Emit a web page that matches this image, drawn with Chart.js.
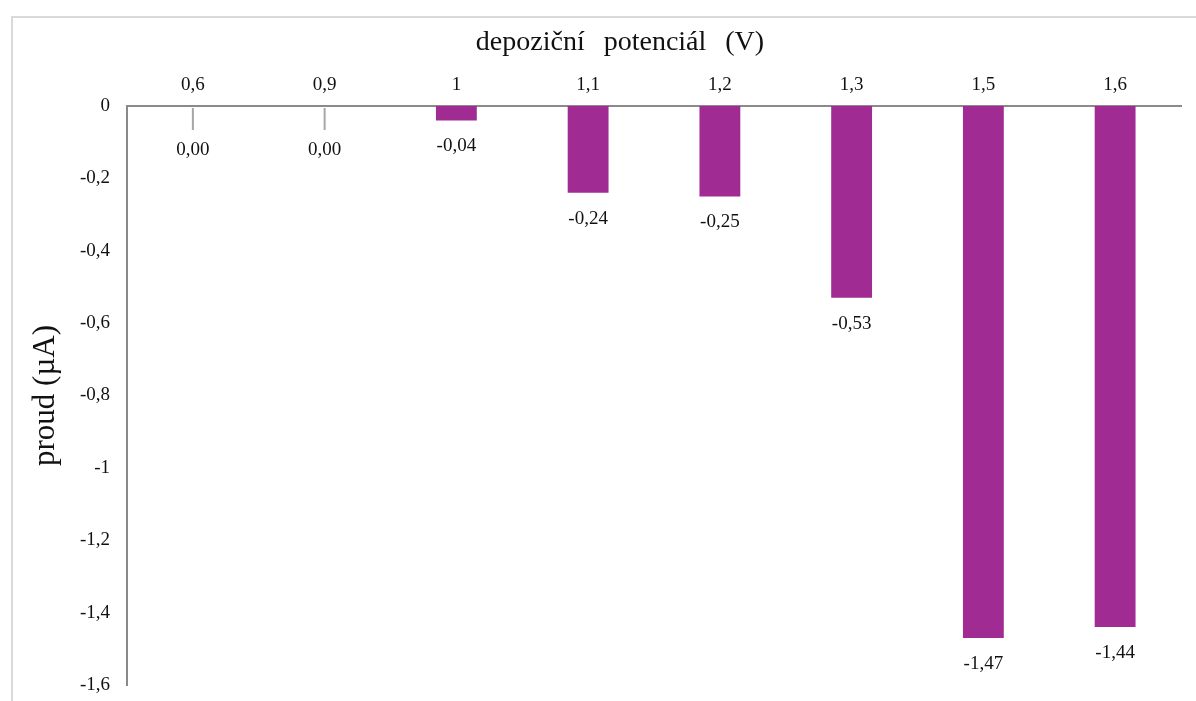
<!DOCTYPE html>
<html lang="cs">
<head>
<meta charset="utf-8">
<title>Proud v závislosti na depozičním potenciálu</title>
<script src="https://cdn.jsdelivr.net/npm/chart.js@4"></script>
<style>
  html, body { margin: 0; padding: 0; background: #ffffff; }
  #wrap { position: relative; width: 1196px; height: 701px; overflow: hidden; background: #ffffff; }
  #frame { position: absolute; left: 11px; top: 16px; width: 1300px; height: 800px;
           border: 2px solid #d9d9d9; box-sizing: border-box; }
  #chart { position: absolute; left: 0; top: 0; }
</style>
</head>
<body>
<div id="wrap">
  <div id="frame"></div>
  <canvas id="chart" width="1196" height="701"></canvas>
</div>
<script>
// depoziční potenciál (V) – kategorie na ose x
const categories = ['0,6', '0,9', '1', '1,1', '1,2', '1,3', '1,5', '1,6'];
// naměřený proud (µA)
const currents = [0.00, 0.00, -0.04, -0.24, -0.25, -0.53, -1.47, -1.44];
// rozsah a krok osy y
const yMin = -1.6;
const yMax = 0;
const yStep = 0.2;

const axisTitleX = 'depoziční potenciál (V)';
const axisTitleY = 'proud (µA)';

const SERIF = '"Liberation Serif", "Times New Roman", serif';
const TEXT = '#111111';
const BAR = '#a02b93';
const AXIS = '#8a8a8a';

const fmtComma = (v, digits) => {
  const s = digits === undefined ? String(Math.round(v * 10) / 10) : v.toFixed(digits);
  return s.replace('.', ',').replace(/^-0$/, '0');
};

// popisky hodnot pod koncem sloupců (u nul s odkazovou čárou)
const valueLabels = {
  id: 'valueLabels',
  afterDatasetsDraw(chart) {
    const ctx = chart.ctx;
    const y = chart.scales.y;
    const meta = chart.getDatasetMeta(0);
    ctx.save();
    ctx.font = '19px ' + SERIF;
    ctx.fillStyle = TEXT;
    ctx.textAlign = 'center';
    ctx.textBaseline = 'middle';
    meta.data.forEach((bar, i) => {
      const v = currents[i];
      const end = y.getPixelForValue(v);
      let ly;
      if (v === 0) {
        ctx.save();
        ctx.strokeStyle = '#a6a6a6';
        ctx.lineWidth = 2;
        ctx.beginPath();
        ctx.moveTo(bar.x, end + 2);
        ctx.lineTo(bar.x, end + 24);
        ctx.stroke();
        ctx.restore();
        ly = end + 44;
      } else {
        ly = end + 26;
      }
      ctx.fillText(fmtComma(v, 2), bar.x, ly);
    });
    ctx.restore();
  }
};

// název osy x nad popisky kategorií
const topTitle = {
  id: 'topTitle',
  afterDraw(chart) {
    const ctx = chart.ctx;
    const area = chart.chartArea;
    ctx.save();
    ctx.font = '28px ' + SERIF;
    ctx.fillStyle = TEXT;
    ctx.textAlign = 'center';
    ctx.textBaseline = 'middle';
    if ('wordSpacing' in ctx) ctx.wordSpacing = '12px';
    ctx.fillText(axisTitleX, (area.left + area.right) / 2 - 34, 43);
    ctx.restore();
  }
};

new Chart(document.getElementById('chart'), {
  type: 'bar',
  data: {
    labels: categories,
    datasets: [{
      data: currents,
      backgroundColor: BAR,
      borderWidth: 0,
      categoryPercentage: 1,
      barPercentage: 0.31
    }]
  },
  options: {
    responsive: false,
    animation: false,
    devicePixelRatio: 1,
    layout: { padding: { left: 0, top: 0, right: 15, bottom: 16 } },
    plugins: {
      legend: { display: false },
      tooltip: { enabled: false }
    },
    scales: {
      x: {
        position: 'top',
        grid: { display: false, drawTicks: false },
        border: { display: true, color: AXIS, width: 2 },
        ticks: { color: TEXT, font: { family: SERIF, size: 19 }, padding: 10, maxRotation: 0 },
        afterFit(s) { s.height = 106; }
      },
      y: {
        min: yMin,
        max: yMax,
        grid: { display: false, drawTicks: false },
        border: { display: true, color: AXIS, width: 2 },
        ticks: {
          stepSize: yStep,
          color: TEXT,
          font: { family: SERIF, size: 19 },
          padding: 17,
          callback: (v) => fmtComma(v)
        },
        title: {
          display: true,
          text: axisTitleY,
          color: TEXT,
          font: { family: SERIF, size: 31 },
          padding: { top: 27, bottom: 0 }
        },
        afterFit(s) {
          s.width = 127;
          s.paddingTop = 0;
          s.paddingBottom = 0;
        }
      }
    }
  },
  plugins: [valueLabels, topTitle]
});
</script>
</body>
</html>
